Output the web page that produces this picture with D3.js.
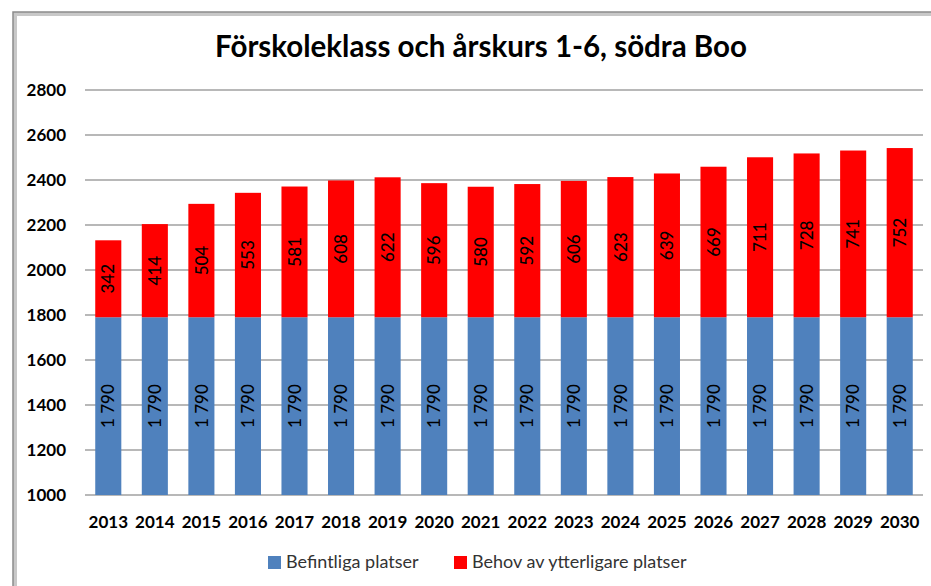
<!DOCTYPE html>
<html>
<head>
<meta charset="utf-8">
<script src="https://cdn.jsdelivr.net/npm/d3@7"></script>
<style>
  body { margin: 0; background: #fff; }
  svg text { font-family: Lato, "Open Sans", sans-serif; }
</style>
</head>
<body>
<svg id="chart" width="931" height="586"></svg>
<script>
const years = ['2013', '2014', '2015', '2016', '2017', '2018', '2019', '2020', '2021',
  '2022', '2023', '2024', '2025', '2026', '2027', '2028', '2029', '2030'];
const befintliga = [1790, 1790, 1790, 1790, 1790, 1790, 1790, 1790, 1790,
  1790, 1790, 1790, 1790, 1790, 1790, 1790, 1790, 1790];
const behov = [342, 414, 504, 553, 581, 608, 622, 596, 580,
  592, 606, 623, 639, 669, 711, 728, 741, 752];
const yTicks = [1000, 1200, 1400, 1600, 1800, 2000, 2200, 2400, 2600, 2800];
const seriesNames = ['Befintliga platser', 'Behov av ytterligare platser'];
const colors = ['#4f81bd', '#ff0000'];

const svg = d3.select('#chart');

// frame of the chart object (cut off to the right and bottom)
svg.append('path')
  .attr('d', 'M15,586 V14 H931')
  .attr('fill', 'none')
  .attr('stroke', '#c8c8c8')
  .attr('stroke-width', 4);
svg.append('path')
  .attr('d', 'M13,586 V12 H931')
  .attr('fill', 'none')
  .attr('stroke', '#8c8c8c')
  .attr('stroke-width', 1.5);

const x = d3.scaleBand()
  .domain(years)
  .range([85, 923])
  .paddingInner(0.44)
  .paddingOuter(0.22);

const y = d3.scaleLinear()
  .domain([1000, 2800])
  .range([495, 90]);

// gridlines
svg.append('g')
  .selectAll('line')
  .data(yTicks)
  .join('line')
  .attr('x1', 85)
  .attr('x2', 923)
  .attr('y1', d => y(d))
  .attr('y2', d => y(d))
  .attr('stroke', '#a0a0a0')
  .attr('stroke-width', 1.6);

// y labels
svg.append('g')
  .selectAll('text')
  .data(yTicks)
  .join('text')
  .attr('x', 66)
  .attr('y', d => y(d))
  .attr('dy', '0.35em')
  .attr('text-anchor', 'end')
  .attr('font-size', 17)
  .attr('font-weight', 'bold')
  .attr('fill', '#000')
  .text(d => d);

const rows = years.map((yr, i) => ({year: yr, a: befintliga[i], b: behov[i]}));
const stack = d3.stack().keys(['a', 'b'])(rows);

const fmt = v => d3.format(',')(v).replace(',', ' ');

stack.forEach((layer, li) => {
  const g = svg.append('g');
  g.selectAll('rect')
    .data(layer)
    .join('rect')
    .attr('x', d => x(d.data.year))
    .attr('width', x.bandwidth())
    .attr('y', d => y(d[1]))
    .attr('height', d => y(Math.max(d[0], 1000)) - y(d[1]))
    .attr('fill', colors[li]);

  g.selectAll('text')
    .data(layer)
    .join('text')
    .attr('transform', d => {
      const cx = x(d.data.year) + x.bandwidth() / 2;
      const cy = (y(Math.max(d[0], 1000)) + y(d[1])) / 2;
      return `translate(${cx},${cy}) rotate(-90)`;
    })
    .attr('text-anchor', 'middle')
    .attr('dy', '0.36em')
    .attr('font-size', 17)
    .attr('font-weight', 500)
    .attr('fill', '#000')
    .text(d => fmt(d[1] - d[0]));
});

// x labels
svg.append('g')
  .selectAll('text')
  .data(years)
  .join('text')
  .attr('x', d => x(d) + x.bandwidth() / 2)
  .attr('y', 528)
  .attr('text-anchor', 'middle')
  .attr('font-size', 17)
  .attr('font-weight', 'bold')
  .attr('fill', '#000')
  .text(d => d);

// title
svg.append('text')
  .attr('x', 481)
  .attr('y', 57)
  .attr('text-anchor', 'middle')
  .attr('font-size', 29.5)
  .attr('font-weight', 'bold')
  .attr('fill', '#000')
  .text('Förskoleklass och årskurs 1-6, södra Boo');

// legend
const legendX = [268, 454];
const legend = svg.append('g');
seriesNames.forEach((name, i) => {
  legend.append('rect')
    .attr('x', legendX[i])
    .attr('y', 556)
    .attr('width', 13)
    .attr('height', 13)
    .attr('fill', colors[i]);
  legend.append('text')
    .attr('x', legendX[i] + 18)
    .attr('y', 562)
    .attr('dy', '0.35em')
    .attr('font-size', 18)
    .attr('fill', '#333')
    .text(name);
});
</script>
</body>
</html>
